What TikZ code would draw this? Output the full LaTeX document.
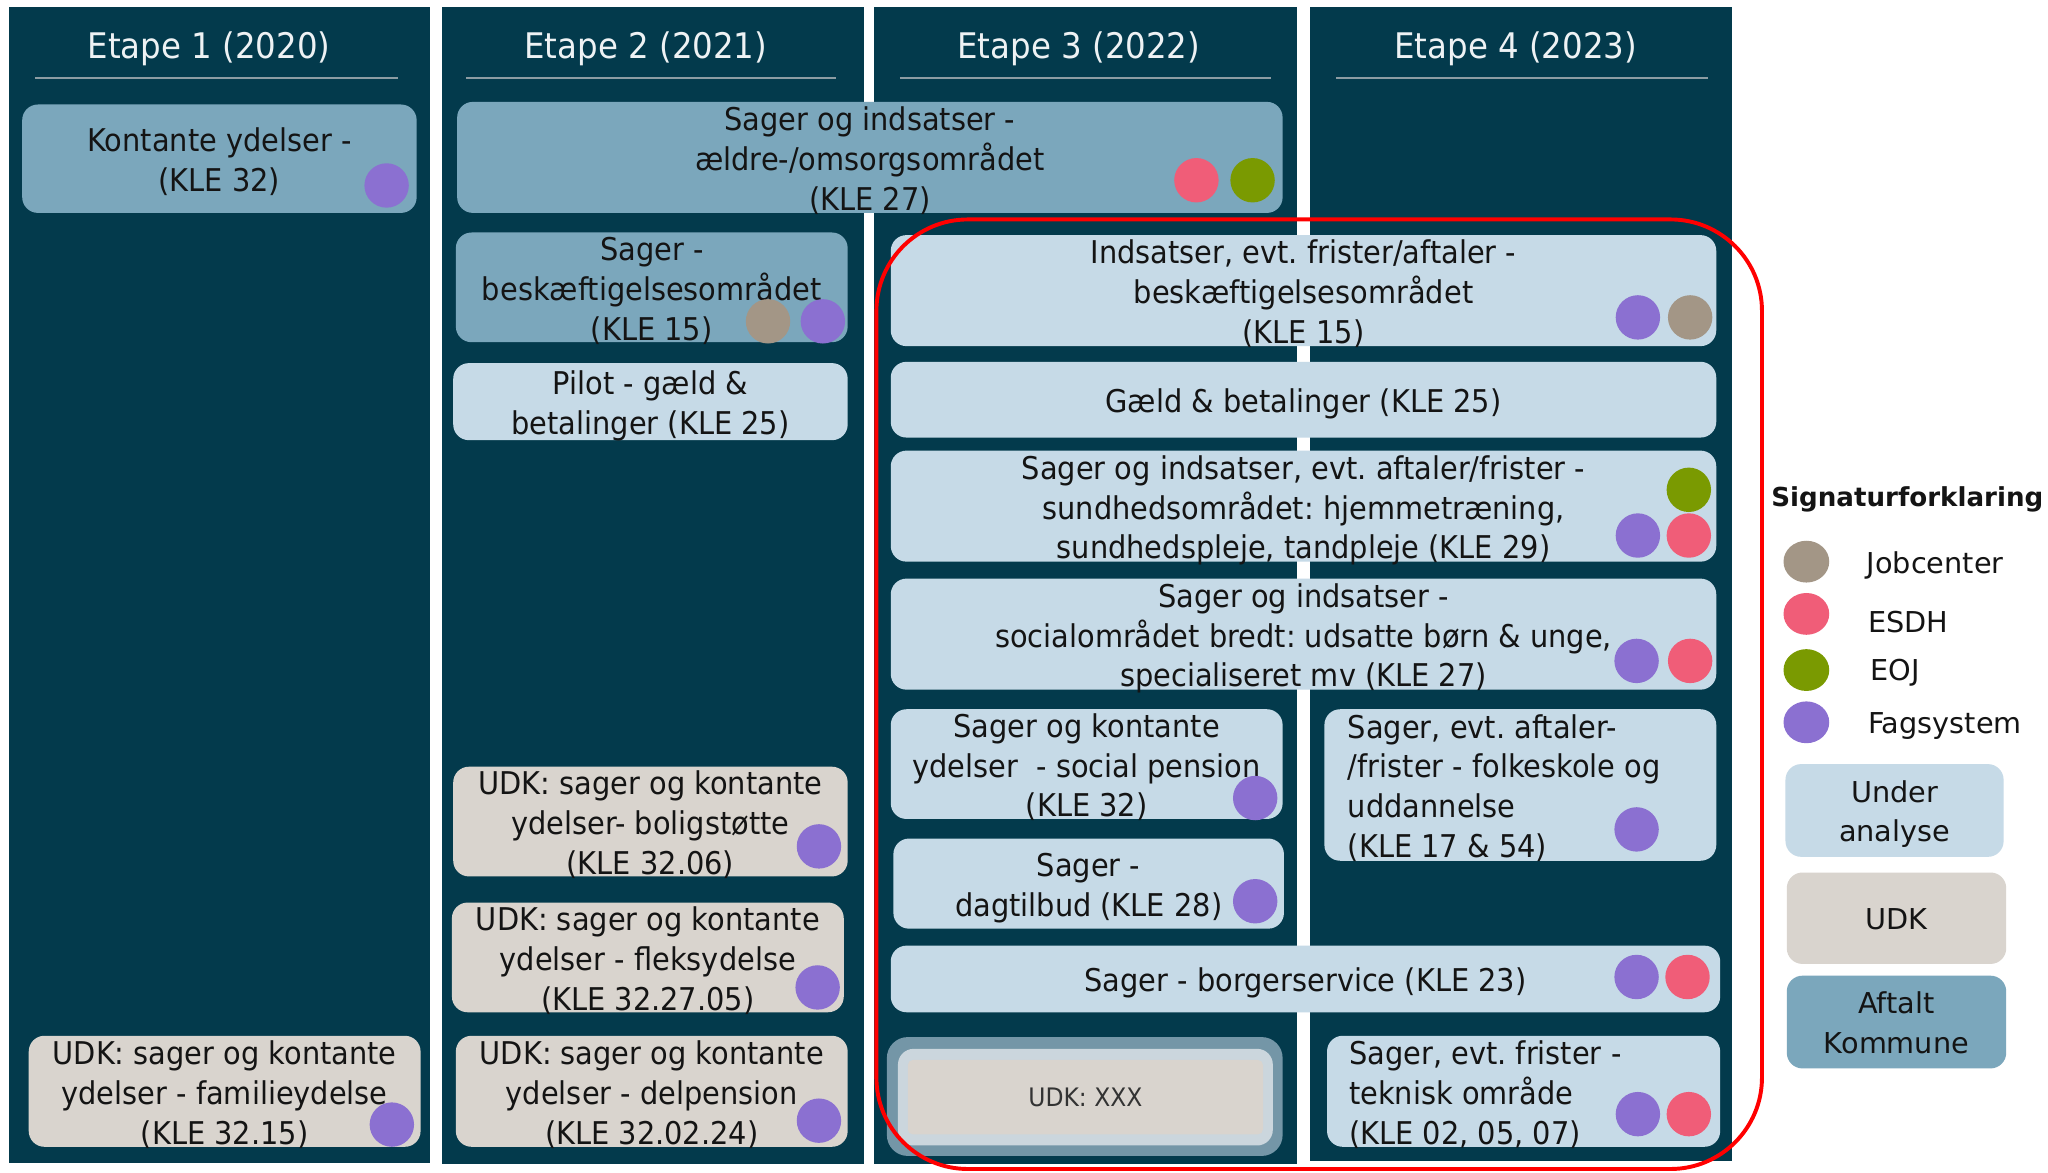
\documentclass[tikz,border=0pt]{standalone}
\usepackage{fontspec}
\setmainfont{DejaVu Sans}
\newfontfamily\boxfont[FakeStretch=0.92]{DejaVu Sans}
\newfontfamily\legfont{DejaVu Sans}
\usetikzlibrary{shapes.geometric}
\frenchspacing
\newcommand{\boxtc}[1]{\raisebox{-10pt}[0pt][0pt]{\begin{tabular}{@{}c@{}}#1\end{tabular}}}
\newcommand{\legtc}[1]{\raisebox{-8pt}[0pt][0pt]{\begin{tabular}{@{}c@{}}#1\end{tabular}}}
\newcommand{\boxtl}[2]{\raisebox{-10pt}[0pt][0pt]{\makebox[#1][l]{\begin{tabular}{@{}l@{}}#2\end{tabular}}}}
\definecolor{colbg}{HTML}{033A4C}
\definecolor{aftalt}{HTML}{7BA7BC}
\definecolor{underan}{HTML}{C6DAE7}
\definecolor{udkc}{HTML}{D9D4CE}
\definecolor{fagc}{HTML}{8B70D1}
\definecolor{esdhc}{HTML}{F05D78}
\definecolor{eojc}{HTML}{7A9A01}
\definecolor{jobc}{HTML}{A39686}
\definecolor{txt}{HTML}{141414}
\definecolor{hdrtxt}{HTML}{EEF2F4}
\definecolor{ulinec}{HTML}{8C9CA3}
\definecolor{udkouter}{HTML}{7496A7}
\definecolor{udkmid}{HTML}{CBD6DD}
\begin{document}
\begin{tikzpicture}[x=1pt,y=-1pt,
  col/.style={fill=colbg, draw=none, inner sep=0pt, rectangle, anchor=north west},
  hdr/.style={text=hdrtxt, font=\boxfont\fontsize{27}{32}\selectfont, inner sep=0pt},
  uline/.style={draw=ulinec, line width=1.5pt},
  sz/.style 2 args={minimum width=#1pt, minimum height=#2pt},
  box/.style={rectangle, rounded corners=12pt, inner sep=0pt, text=txt,
    font=\boxfont\fontsize{24}{30.5}\selectfont},
  aft/.style={box, fill=aftalt},
  ua/.style={box, fill=underan},
  udk/.style={box, fill=udkc},
  dot/.style={circle, minimum size=34pt, inner sep=0pt, draw=none},
  fag/.style={dot, fill=fagc},
  esdh/.style={dot, fill=esdhc},
  eoj/.style={dot, fill=eojc},
  job/.style={dot, fill=jobc},
  ldot/.style={ellipse, minimum width=35pt, minimum height=32pt, inner sep=0pt, draw=none},
  leg/.style={anchor=west, text=txt, font=\legfont\fontsize{22}{30}\selectfont, inner sep=0pt},
  legbox/.style={rectangle, rounded corners=12pt, inner sep=0pt, text=txt,
    font=\legfont\fontsize{22}{30}\selectfont}
]
\useasboundingbox (0,0) rectangle (1568,898);
\fill[white] (0,0) rectangle (1568,898);

% columns
\node[col, sz={322}{885}] (c1) at (7,5) {};
\node[col, sz={323}{886}] (c2) at (338,5) {};
\node[col, sz={324}{886}] (c3) at (669,5) {};
\node[col, sz={323}{884}] (c4) at (1003,5) {};

% headers
\node[hdr] (h1) at (160,37.5) {Etape 1 (2020)};
\node[hdr] (h2) at (494.5,37.5) {Etape 2 (2021)};
\node[hdr] (h3) at (826,37.5) {Etape 3 (2022)};
\node[hdr] (h4) at (1160.5,37.5) {Etape 4 (2023)};
\draw[uline] (27,60) -- (305,60);
\draw[uline] (357,60) -- (640,60);
\draw[uline] (689,60) -- (973,60);
\draw[uline] (1023,60) -- (1308,60);

% Etape 1
\node[aft, sz={302}{83}] (b1) at (168,121.5) {\boxtc{Kontante ydelser -\\(KLE 32)}};
\node[udk, sz={300}{85}] (b19) at (172,835.5) {\boxtc{UDK: sager og kontante\\ydelser - familieydelse\\(KLE 32.15)}};

% Etape 2
\node[aft, sz={632}{85}] (b2) at (666,120.5) {\boxtc{Sager og indsatser -\\ældre-/omsorgsområdet\\(KLE 27)}};
\node[aft, sz={300}{84}] (b3) at (499,220) {\boxtc{Sager -\\beskæftigelsesområdet\\(KLE 15)}};
\node[ua, sz={302}{59}] (b4) at (498,307.5) {\boxtc{Pilot - gæld \&\\betalinger (KLE 25)}};
\node[udk, sz={302}{84}] (b16) at (498,629) {\boxtc{UDK: sager og kontante\\ydelser- boligstøtte\\(KLE 32.06)}};
\node[udk, sz={300}{84}] (b17) at (496,733) {\boxtc{UDK: sager og kontante\\ydelser - fleksydelse\\(KLE 32.27.05)}};
\node[udk, sz={300}{85}] (b18) at (499,835.5) {\boxtc{UDK: sager og kontante\\ydelser - delpension\\(KLE 32.02.24)}};

% Etape 3/4
\node[ua, sz={632}{85}] (b6) at (998,222.5) {\boxtc{Indsatser, evt. frister/aftaler -\\beskæftigelsesområdet\\(KLE 15)}};
\node[ua, sz={632}{58}] (b7) at (998,306) {\boxtc{Gæld \& betalinger (KLE 25)}};
\node[ua, sz={632}{85}] (b8) at (998,387.5) {\boxtc{Sager og indsatser, evt. aftaler/frister -\\sundhedsområdet: hjemmetræning,\\sundhedspleje, tandpleje (KLE 29)}};
\node[ua, sz={632}{85}] (b9) at (998,485.5) {\boxtc{Sager og indsatser -\\socialområdet bredt: udsatte børn \& unge,\\specialiseret mv (KLE 27)}};
\node[ua, sz={300}{84}] (b10) at (832,585) {\boxtc{Sager og kontante\\ydelser~ - social pension\\(KLE 32)}};
\node[ua, sz={299}{69}] (b11) at (833.5,676.5) {\boxtc{Sager -\\dagtilbud (KLE 28)}};
\node[ua, sz={300}{116}] (b12) at (1164,601) {\boxtl{264pt}{Sager, evt. aftaler-\\/frister - folkeskole og\\uddannelse\\(KLE 17 \& 54)}};
\node[ua, sz={635}{51}] (b13) at (999.5,749.5) {\boxtc{Sager - borgerservice (KLE 23)}};
\node[ua, sz={301}{85}] (b15) at (1166.5,835.5) {\boxtl{267pt}{Sager, evt. frister -\\teknisk område\\(KLE 02, 05, 07)}};

% UDK: XXX
\node[box, fill=udkouter, rounded corners=16pt, sz={303}{91}] (x1) at (830.5,839.5) {};
\node[box, fill=udkmid, rounded corners=12pt, sz={287}{74}] (x2) at (831,840) {};
\node[box, fill=udkc, rounded corners=4pt, sz={272}{57}, text=black!80,
  font=\boxfont\fontsize{19.5}{24}\selectfont] (x3) at (831,840) {UDK: XXX};

% dots
\node[fag] (d1) at (296,142) {};
\node[esdh] (d2a) at (916,138) {};
\node[eoj] (d2b) at (959,138) {};
\node[job] (d3a) at (588,246) {};
\node[fag] (d3b) at (630,246) {};
\node[fag] (d6a) at (1254,243) {};
\node[job] (d6b) at (1294,243) {};
\node[eoj] (d8a) at (1293,375) {};
\node[fag] (d8b) at (1254,410) {};
\node[esdh] (d8c) at (1293,410) {};
\node[fag] (d9a) at (1253,506) {};
\node[esdh] (d9b) at (1294,506) {};
\node[fag] (d10) at (961,611) {};
\node[fag] (d11) at (961,690) {};
\node[fag] (d12) at (1253,635) {};
\node[fag] (d13a) at (1253,748) {};
\node[esdh] (d13b) at (1292,748) {};
\node[fag] (d15a) at (1254,853) {};
\node[esdh] (d15b) at (1293,853) {};
\node[fag] (d16) at (627,648) {};
\node[fag] (d17) at (626,756) {};
\node[fag] (d18) at (627,858) {};
\node[fag] (d19) at (300,861) {};

% red focus frame
\node[draw=red, line width=3pt, rounded corners=70pt, inner sep=0pt, sz={678}{727}] (focus) at (1010,531.5) {};

% legend
\node[anchor=west, text=txt, font=\legfont\bfseries\fontsize{20}{24}\selectfont, inner sep=0pt] (lh) at (1356,382) {Signaturforklaring};
\node[ldot, fill=jobc] (l1) at (1383,430) {};
\node[ldot, fill=esdhc] (l2) at (1383,470) {};
\node[ldot, fill=eojc] (l3) at (1383,513) {};
\node[ldot, fill=fagc] (l4) at (1383,553) {};
\node[leg] (t1) at (1429,433) {Jobcenter};
\node[leg] (t2) at (1430,476) {ESDH};
\node[leg] (t3) at (1432,515) {EOJ};
\node[leg] (t4) at (1430,556) {Fagsystem};
\node[legbox, fill=underan, sz={167}{71}] (lb1) at (1450.5,620.5) {\legtc{Under\\analyse}};
\node[legbox, fill=udkc, sz={168}{70}] (lb2) at (1452,703) {\legtc{UDK}};
\node[legbox, fill=aftalt, sz={168}{71}] (lb3) at (1452,782.5) {\legtc{Aftalt\\Kommune}};
\end{tikzpicture}
\end{document}
